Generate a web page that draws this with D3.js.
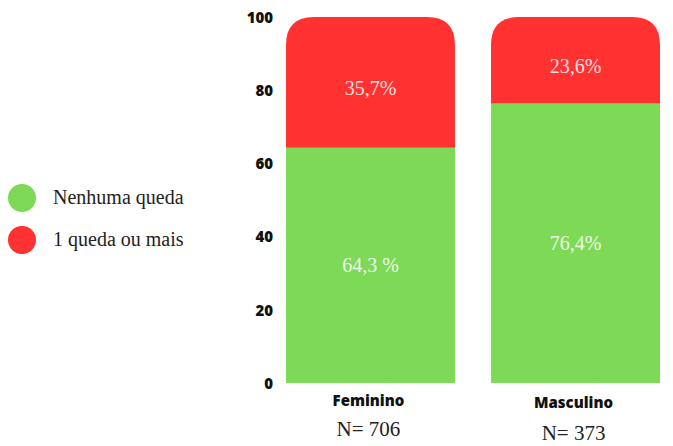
<!DOCTYPE html>
<html><head><meta charset="utf-8">
<script src="https://cdn.jsdelivr.net/npm/d3@7"></script>
<style>body{margin:0;background:#fff}svg{display:block}</style>
</head><body>
<svg id="c" width="673" height="446"></svg>
<script>
const categories = ["Feminino", "Masculino"];
const nLabels = ["N= 706", "N= 373"];
const nenhuma = [64.3, 76.4];
const umaOuMais = [35.7, 23.6];
const valueLabelsGreen = ["64,3 %", "76,4%"];
const valueLabelsRed = ["35,7%", "23,6%"];
const ticks = [0, 20, 40, 60, 80, 100];
const seriesNames = ["Nenhuma queda", "1 queda ou mais"];
const colors = ["#7ED957", "#FF3131"];

const svg = d3.select("#c");
const y = d3.scaleLinear().domain([0, 100]).range([383, 17]);
const x = d3.scaleBand().domain(categories).range([286, 660]).paddingInner(0.176).paddingOuter(0);
const r = 28;

// y axis
const yAxis = d3.axisLeft(y).tickValues(ticks).tickSize(0).tickPadding(0);
const ga = svg.append("g").attr("transform", "translate(273,0)").call(yAxis);
ga.select(".domain").remove();
ga.selectAll("text").attr("font-family", "'Open Sans', sans-serif").attr("font-weight", 800)
  .attr("font-size", 15).attr("fill", "#111").attr("dy", "0.35em");

function topRounded(x0, y0, w, h, rr) {
  return `M${x0},${y0 + h}V${y0 + rr}Q${x0},${y0} ${x0 + rr},${y0}H${x0 + w - rr}Q${x0 + w},${y0} ${x0 + w},${y0 + rr}V${y0 + h}Z`;
}

categories.forEach((c, i) => {
  const bx = x(c), bw = x.bandwidth();
  svg.append("rect").attr("x", bx).attr("y", y(nenhuma[i])).attr("width", bw)
    .attr("height", y(0) - y(nenhuma[i])).attr("fill", colors[0]);
  const top = y(nenhuma[i] + umaOuMais[i]);
  svg.append("path").attr("d", topRounded(bx, top, bw, y(nenhuma[i]) - top, r)).attr("fill", colors[1]);
  svg.append("text").attr("x", bx + bw / 2).attr("y", (y(0) + y(nenhuma[i])) / 2 + 7)
    .attr("text-anchor", "middle").attr("font-family", "'Liberation Serif', serif").attr("font-size", 20)
    .attr("fill", "#eef8e8").text(valueLabelsGreen[i]);
  svg.append("text").attr("x", bx + bw / 2).attr("y", (top + y(nenhuma[i])) / 2 + 13)
    .attr("text-anchor", "middle").attr("font-family", "'Liberation Serif', serif").attr("font-size", 20)
    .attr("fill", "#ffe0e0").text(valueLabelsRed[i]);
  svg.append("text").attr("x", bx + bw / 2 - 2).attr("y", 406 + i * 2)
    .attr("text-anchor", "middle").attr("font-family", "'Open Sans', sans-serif").attr("font-weight", 800)
    .attr("font-size", 15).attr("fill", "#111").text(c);
  svg.append("text").attr("x", bx + bw / 2 - 2).attr("y", 436 + i * 4)
    .attr("text-anchor", "middle").attr("font-family", "'Liberation Serif', serif")
    .attr("font-size", 21).attr("fill", "#222").text(nLabels[i]);
});

// legend
seriesNames.forEach((s, i) => {
  const cy = 198 + i * 42;
  svg.append("circle").attr("cx", 22).attr("cy", cy).attr("r", 14).attr("fill", colors[i]);
  svg.append("text").attr("x", 53).attr("y", cy + 6).attr("font-family", "'Liberation Serif', serif")
    .attr("font-size", 20).attr("fill", "#222").text(s);
});
</script>
</body></html>
